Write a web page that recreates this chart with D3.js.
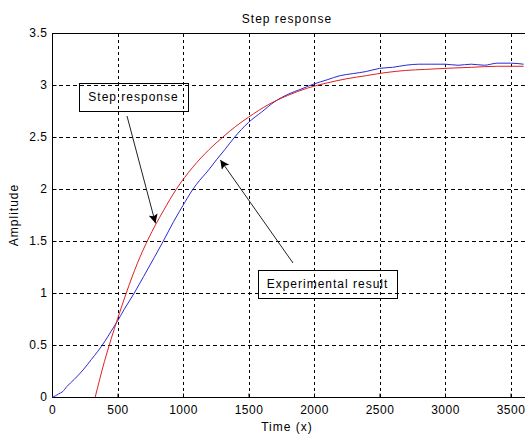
<!DOCTYPE html>
<html>
<head>
<meta charset="utf-8">
<script src="https://cdn.jsdelivr.net/npm/d3@7"></script>
<style>
  body { margin: 0; background: #fff; }
  text { font-family: "Liberation Sans", Arial, sans-serif; font-size: 12px; fill: #000; }
</style>
</head>
<body>
<div id="vis"></div>
<script>
// data

// experimental result (blue)
var expTime = [0, 25, 50, 80, 113, 170, 237, 300, 350, 406, 450, 500, 550, 628, 700, 780, 850, 930, 1013, 1056, 1100,
               1200, 1255, 1320, 1395, 1500, 1600, 1700, 1800, 1900, 2000, 2100, 2200, 2300, 2400, 2500, 2600, 2700,
               2800, 2900, 3000, 3100, 3200, 3300, 3400, 3500, 3600];
var expAmp = [0.00, 0.01, 0.03, 0.05, 0.10, 0.17, 0.26, 0.36, 0.44, 0.54, 0.63, 0.73, 0.84, 1.00, 1.16, 1.34, 1.50, 1.69, 1.87, 1.96, 2.04,
              2.19, 2.28, 2.38, 2.50, 2.64, 2.74, 2.84, 2.91, 2.96, 3.01, 3.05, 3.09, 3.11, 3.13, 3.16, 3.17, 3.19,
              3.20, 3.20, 3.20, 3.19, 3.20, 3.19, 3.21, 3.21, 3.20];

// step response model (red)
var stepTime = [330, 400, 452, 500, 567, 650, 735, 850, 950, 1075, 1200, 1305, 1400, 1500, 1650, 1800, 1950,
                2100, 2250, 2400, 2550, 2700, 2850, 3000, 3200, 3400, 3600];
var stepAmp = [0.00, 0.34, 0.56, 0.75, 1.00, 1.28, 1.52, 1.79, 2.00, 2.21, 2.38, 2.50, 2.60, 2.69, 2.81, 2.90, 2.97,
               3.02, 3.06, 3.09, 3.12, 3.14, 3.15, 3.16, 3.17, 3.18, 3.18];

var xTicks = [0, 500, 1000, 1500, 2000, 2500, 3000, 3500];
var yTicks = [0, 0.5, 1, 1.5, 2, 2.5, 3, 3.5];

// annotations: label text and the point each arrow points at
var notes = [
  {text: "Step response", t: 790, a: 1.67},
  {text: "Experimental result", t: 1285, a: 2.28}
];

var width = 525, height = 434;
var margin = {top: 33, left: 52, bottom: 37};
var plotH = height - margin.top - margin.bottom;

var svg = d3.select("#vis").append("svg")
    .attr("width", width)
    .attr("height", height);

// x axis runs past the right edge of the picture
var x = d3.scaleLinear().domain([0, 3700]).range([margin.left, margin.left + 3700 * 0.131]);
var y = d3.scaleLinear().domain([0, 3.5]).range([margin.top + plotH, margin.top]);

// grid
svg.append("g").selectAll("line")
  .data(xTicks.slice(1))
  .enter().append("line")
    .attr("x1", function(d) { return Math.round(x(d)) + 0.5; })
    .attr("x2", function(d) { return Math.round(x(d)) + 0.5; })
    .attr("y1", y(0))
    .attr("y2", y(3.5))
    .attr("stroke", "#000")
    .attr("stroke-width", 1)
    .attr("stroke-dasharray", "3,3");

svg.append("g").selectAll("line")
  .data(yTicks.slice(1, -1))
  .enter().append("line")
    .attr("x1", x(0))
    .attr("x2", width)
    .attr("y1", function(d) { return Math.round(y(d)) + 0.5; })
    .attr("y2", function(d) { return Math.round(y(d)) + 0.5; })
    .attr("stroke", "#000")
    .attr("stroke-width", 1)
    .attr("stroke-dasharray", "4,3");

// axes, ticks point inward like matlab
svg.append("g")
    .attr("transform", "translate(0," + (Math.round(y(0)) + 0.5) + ")")
    .call(d3.axisBottom(x).tickValues(xTicks).tickSize(-4).tickPadding(8).tickFormat(d3.format("d")))
    .call(function(g) { g.select(".domain").attr("d", "M" + x(0) + ",0H" + width); });

svg.append("g")
    .attr("transform", "translate(" + (Math.round(x(0)) + 0.5) + ",0)")
    .call(d3.axisLeft(y).tickValues(yTicks).tickSize(-4).tickPadding(5).tickFormat(function(d) { return d; }))
    .call(function(g) { g.select(".domain").attr("d", "M0," + y(0) + "V" + y(3.5)); });

svg.selectAll(".tick text")
    .style("font-size", "12px")
    .style("letter-spacing", "0.5px")
    .attr("fill", "#000");
svg.selectAll(".tick line").attr("stroke", "#000");
svg.selectAll(".domain").attr("stroke", "#000");

// top border
svg.append("line")
    .attr("x1", x(0))
    .attr("x2", width)
    .attr("y1", Math.round(y(3.5)) + 0.5)
    .attr("y2", Math.round(y(3.5)) + 0.5)
    .attr("stroke", "#000");

// curves
var line = d3.line()
    .curve(d3.curveMonotoneX)
    .x(function(d) { return x(d[0]); })
    .y(function(d) { return y(d[1]); });

svg.append("path")
    .datum(d3.zip(expTime, expAmp))
    .attr("d", line)
    .attr("fill", "none")
    .attr("stroke", "#2a2ad8")
    .attr("stroke-width", 1);

svg.append("path")
    .datum(d3.zip(stepTime, stepAmp))
    .attr("d", line)
    .attr("fill", "none")
    .attr("stroke", "#e02020")
    .attr("stroke-width", 1);

// title and labels
svg.append("text")
    .attr("x", 287)
    .attr("y", 23)
    .attr("text-anchor", "middle")
    .style("letter-spacing", "1px")
    .text("Step response");

svg.append("text")
    .attr("x", 287)
    .attr("y", 431)
    .attr("text-anchor", "middle")
    .style("letter-spacing", "1px")
    .text("Time (x)");

svg.append("text")
    .attr("transform", "translate(18," + (margin.top + plotH / 2) + ") rotate(-90)")
    .attr("text-anchor", "middle")
    .style("letter-spacing", "1px")
    .text("Amplitude");

// annotation arrows
var defs = svg.append("defs");
defs.append("marker")
    .attr("id", "head")
    .attr("viewBox", "0 0 10 10")
    .attr("refX", 10)
    .attr("refY", 5)
    .attr("markerWidth", 11)
    .attr("markerHeight", 9)
    .attr("markerUnits", "userSpaceOnUse")
    .attr("orient", "auto")
  .append("path")
    .attr("d", "M0,0L10,5L0,10L2,5Z")
    .attr("fill", "#000");

var boxes = [
  {x: 79, y: 83, w: 109, h: 28, fromX: 127, fromY: 116},
  {x: 258, y: 270, w: 139, h: 28, fromX: 293, fromY: 263}
];

boxes.forEach(function(b, i) {
  svg.append("line")
      .attr("x1", b.fromX)
      .attr("y1", b.fromY)
      .attr("x2", x(notes[i].t))
      .attr("y2", y(notes[i].a))
      .attr("stroke", "#222")
      .attr("stroke-width", 1)
      .attr("marker-end", "url(#head)");

  svg.append("rect")
      .attr("x", b.x + 0.5)
      .attr("y", b.y + 0.5)
      .attr("width", b.w)
      .attr("height", b.h)
      .attr("fill", "none")
      .attr("stroke", "#000");

  svg.append("text")
      .attr("x", b.x + b.w / 2)
      .attr("y", b.y + b.h / 2 + 4)
      .attr("text-anchor", "middle")
      .style("letter-spacing", "1px")
      .text(notes[i].text);
});
</script>
</body>
</html>
